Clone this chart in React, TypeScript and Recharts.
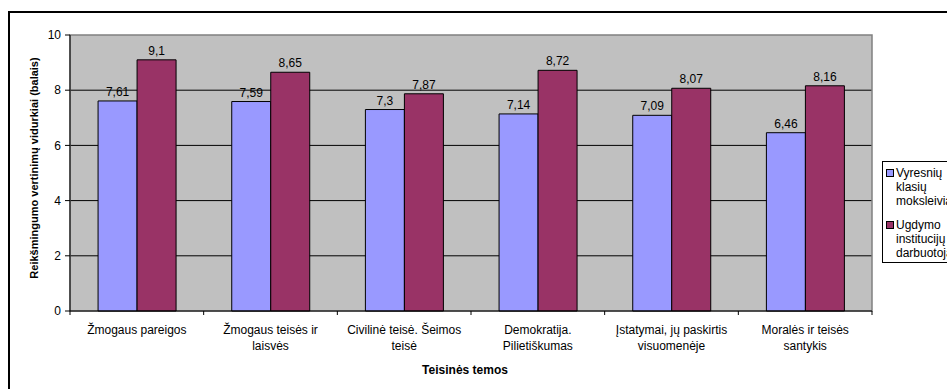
import React from "react";
import {
  BarChart,
  Bar,
  XAxis,
  YAxis,
  CartesianGrid,
  LabelList,
  Label,
  ReferenceArea,
} from "recharts";

const categories = [
  "Žmogaus pareigos",
  "Žmogaus teisės ir\nlaisvės",
  "Civilinė teisė. Šeimos\nteisė",
  "Demokratija.\nPilietiškumas",
  "Įstatymai, jų paskirtis\nvisuomenėje",
  "Moralės ir teisės\nsantykis",
];
const students = [7.61, 7.59, 7.3, 7.14, 7.09, 6.46];
const staff = [9.1, 8.65, 7.87, 8.72, 8.07, 8.16];
const yTicks = [0, 2, 4, 6, 8, 10];
const seriesNames = ["Vyresnių klasių moksleiviai", "Ugdymo institucijų darbuotojai"];
const legendLines = [
  ["Vyresnių", "klasių", "moksleiviai"],
  ["Ugdymo", "institucijų", "darbuotojai"],
];

const data = categories.map((c, i) => ({
  name: c,
  students: students[i],
  staff: staff[i],
}));

const FONT = '"Liberation Sans", Arial, sans-serif';
const PLOT_LEFT = 70;
const PLOT_RIGHT = 872;
const PLOT_BOTTOM = 311;
const BAND = (PLOT_RIGHT - PLOT_LEFT) / categories.length;

const BLUE = "#9999FF";
const RED = "#993366";

const fmt = (v: any) => String(v).replace(".", ",");

function XTick(props: any) {
  const { x, payload, index } = props;
  const lines = String(payload.value).split("\n");
  const left = x - BAND / 2;
  return (
    <g>
      <line x1={left} y1={PLOT_BOTTOM} x2={left} y2={PLOT_BOTTOM + 4} stroke="#000" />
      {index === categories.length - 1 && (
        <line x1={x + BAND / 2} y1={PLOT_BOTTOM} x2={x + BAND / 2} y2={PLOT_BOTTOM + 4} stroke="#000" />
      )}
      <text x={x} y={PLOT_BOTTOM + 23} textAnchor="middle" fontSize={12} fontFamily={FONT} fill="#000">
        {lines.map((l, i) => (
          <tspan key={i} x={x} dy={i === 0 ? 0 : 16}>
            {l}
          </tspan>
        ))}
      </text>
    </g>
  );
}

export default function App() {
  return (
    <div
      style={{
        position: "absolute",
        left: 0,
        top: 0,
        width: 947,
        height: 389,
        overflow: "hidden",
        background: "#fff",
        fontFamily: FONT,
      }}
    >
      <div
        style={{
          position: "absolute",
          left: 8,
          top: 11,
          width: 1000,
          height: 1000,
          borderTop: "2px solid #000",
          borderLeft: "2px solid #000",
        }}
      />
      <div style={{ position: "absolute", left: 0, top: 0 }}>
        <BarChart
          width={947}
          height={389}
          data={data}
          margin={{ top: 35, right: 947 - PLOT_RIGHT, bottom: 0, left: 10 }}
          barCategoryGap="21%"
          barGap={0}
        >
          <CartesianGrid
            vertical={false}
            horizontalValues={[2, 4, 6, 8]}
            stroke="#000"
            fill="#C0C0C0"
            fillOpacity={1}
          />
          <ReferenceArea y1={0} y2={10} fill="none" stroke="#808080" strokeWidth={1.5} ifOverflow="visible" />
          <XAxis
            dataKey="name"
            height={78}
            interval={0}
            tickLine={false}
            axisLine={{ stroke: "#000" }}
            tick={<XTick />}
          >
            <Label
              content={() => (
                <text x={465} y={374} textAnchor="middle" fontSize={12} fontWeight="bold" fontFamily={FONT} fill="#000">
                  Teisinės temos
                </text>
              )}
            />
          </XAxis>
          <YAxis
            width={60}
            domain={[0, 10]}
            ticks={yTicks}
            interval={0}
            tickSize={5}
            tickMargin={4}
            tick={{ fontSize: 12, fill: "#000", fontFamily: FONT }}
            tickLine={{ stroke: "#000" }}
            axisLine={{ stroke: "#000" }}
          >
            <Label
              content={() => (
                <text
                  x={38}
                  y={168}
                  transform="rotate(-90 38 168)"
                  textAnchor="middle"
                  fontSize={11}
                  fontWeight="bold"
                  fontFamily={FONT}
                  fill="#000"
                >
                  Reikšmingumo vertinimų vidurkiai (balais)
                </text>
              )}
            />
          </YAxis>
          <Bar dataKey="students" name={seriesNames[0]} fill={BLUE} stroke="#000" strokeWidth={1} isAnimationActive={false}>
            <LabelList dataKey="students" position="top" formatter={fmt} fontSize={12} fill="#000" fontFamily={FONT} />
          </Bar>
          <Bar dataKey="staff" name={seriesNames[1]} fill={RED} stroke="#000" strokeWidth={1} isAnimationActive={false}>
            <LabelList dataKey="staff" position="top" formatter={fmt} fontSize={12} fill="#000" fontFamily={FONT} />
          </Bar>
        </BarChart>
      </div>
      <div
        style={{
          position: "absolute",
          left: 882,
          top: 161,
          width: 200,
          height: 100,
          border: "1px solid #000",
          background: "#fff",
          fontSize: 12,
          lineHeight: "14px",
          color: "#000",
        }}
      >
        {legendLines.map((lines, i) => (
          <div key={i} style={{ position: "absolute", left: 0, top: 4 + i * 52 }}>
            <div
              style={{
                position: "absolute",
                left: 3,
                top: 3,
                width: 6,
                height: 6,
                background: i === 0 ? BLUE : RED,
                border: "1px solid #000",
              }}
            />
            <div style={{ position: "absolute", left: 13, top: 0, whiteSpace: "nowrap" }}>
              {lines.map((l, j) => (
                <div key={j}>{l}</div>
              ))}
            </div>
          </div>
        ))}
      </div>
    </div>
  );
}
